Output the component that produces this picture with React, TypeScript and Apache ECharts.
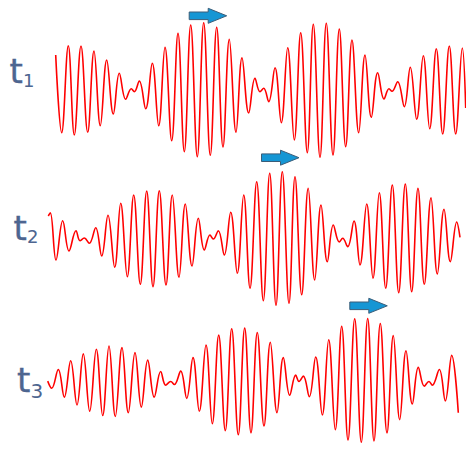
import React, { useEffect, useRef } from "react";
import * as echarts from "echarts";

// Wave 1 (t1): time positions of extrema and amplitudes
const wave1Time = [55.7, 61.7, 68.3, 74.3, 81, 87.7, 94, 100.3, 106.7, 113.3, 119.3, 125.7, 131.3, 134.3, 139.3, 145.7, 152.3, 158.7, 165, 171.7, 178, 184.3, 190.7, 197.3, 203.7, 210.3, 216.7, 223, 229.3, 236, 242, 248.7, 255, 260, 263.7, 268.7, 275, 281.3, 287.7, 294.3, 300.7, 307.3, 313.3, 320, 326.3, 333, 339.3, 345.7, 352, 358.7, 365, 371.3, 377.7, 384, 389, 392, 397.7, 404.3, 410.3, 416.7, 423.3, 429.7, 436.3, 442.7, 449.3, 455.7, 462.3, 465.7];
const wave1Amp = [35, -42.7, 44.3, -45, 44, -42.3, 39, -35.7, 30, -24, 16.7, -9.3, 1.3, -1.7, 9, -18.7, 26.7, -35.7, 42.7, -50.7, 56.7, -61.7, 65, -66.7, 67.3, -65.3, 62.7, -57, 50.7, -42.3, 32.3, -23, 11.7, -1.7, 1.7, -11.7, 22.3, -32.7, 42.3, -50, 57.3, -62.7, 65.7, -67.3, 66.7, -65, 61, -56.7, 50, -42.7, 35, -27.3, 17.3, -9, 1.3, -1.3, 8.3, -16.7, 22.7, -29.3, 34.3, -38.7, 41.3, -44, 44, -44, 42, -18];

// Wave 2 (t2)
const wave2Time = [48.3, 50.3, 56, 62.7, 69, 76, 80, 84.3, 89.3, 95.7, 101.7, 108, 114.7, 120.7, 127.3, 133.7, 140.3, 146.7, 153, 159.3, 166, 172.3, 179, 185.3, 192, 198.3, 204.3, 210, 213.3, 218.3, 224.3, 230.7, 237.3, 243.7, 250, 256.7, 263.3, 269.7, 276, 282.3, 289, 295, 301.7, 308.2, 314.7, 321, 327.3, 333.3, 339.3, 342.7, 347.7, 354, 360, 366.7, 373, 379.3, 385.7, 392.3, 398.7, 405.3, 411.7, 418, 424.3, 431, 437.3, 444, 450.3, 456.7, 460];
const wave2Amp = [22.5, 25.8, -21.5, 17.8, -12.5, 7.8, -2.2, 0.5, -4.8, 10.8, -17.5, 23.2, -28.8, 35.2, -38.2, 43.5, -45.8, 47.5, -48.2, 47.8, -46.5, 43.5, -38.8, 34.5, -27.5, 20.2, -11.5, 3.5, -0.5, 7.8, -16.5, 26.2, -34.8, 43.5, -49.8, 56.8, -62.2, 65.2, -66.8, 66.8, -64.8, 61.8, -56.2, 50.2, -41.5, 33.5, -23.2, 13.5, -3.5, 0.2, -8.2, 17.5, -26.5, 34.5, -39.8, 45.8, -49.8, 53.5, -54.2, 54.5, -53.2, 50.2, -45.8, 40.8, -35.5, 29.2, -23.2, 16.5, 1.2];

// Wave 3 (t3)
const wave3Time = [47.7, 51.7, 58.3, 64.3, 70.7, 77, 83.3, 89.7, 96.3, 102.7, 109, 115.3, 122, 128.3, 135, 141.3, 147.7, 154.2, 160.7, 165.7, 170.7, 174.3, 180.7, 186.7, 193, 199.3, 206, 212.3, 218.7, 225.3, 231.7, 238.3, 244.7, 251, 257.3, 264, 270.3, 277, 283.3, 289.7, 295.7, 299, 303.3, 309.3, 315.7, 322.3, 328.7, 335.3, 341.7, 348, 354.7, 361.3, 367.7, 374, 380.3, 387, 393.3, 399.7, 406, 412.3, 418.3, 424.3, 429, 432.3, 439.3, 445.3, 451.7, 458.3];
const wave3Amp = [-0.7, -8.3, 11.7, -17.7, 21, -26, 28.3, -32.7, 33.3, -37.3, 36.7, -38.3, 35, -34.3, 29.7, -28.3, 21.7, -17.7, 9.5, -5, -1, -4.3, 10, -19, 24.3, -32.7, 37.7, -46, 48.3, -53.3, 55, -57.7, 55.7, -55.7, 51, -48.3, 40.7, -34.3, 24.3, -15.7, 5.7, -1, 4.7, -17.2, 25, -36.7, 43.3, -52.3, 57.7, -63.3, 65.7, -65.7, 66, -64.3, 60.7, -55.7, 47.7, -41.7, 31.7, -25, 14, -6, -1, -5, 11.7, -21.7, 26.7, -34.3];

const subscripts = ["1", "2", "3"];

const WAVE_COLOR = "#ff0000";
const LABEL_COLOR = "#4d6590";

function arrow(tipX: number, midY: number) {
  return {
    type: "polygon",
    silent: true,
    shape: {
      points: [
        [tipX - 37.5, midY - 3.8],
        [tipX - 18.5, midY - 3.8],
        [tipX - 18.5, midY - 7.5],
        [tipX, midY],
        [tipX - 18.5, midY + 7.5],
        [tipX - 18.5, midY + 3.8],
        [tipX - 37.5, midY + 3.8],
      ],
    },
    style: { fill: "#1596d4", stroke: "#3b5d78", lineWidth: 1 },
  };
}

function label(tx: number, tMid: number, sMid: number, sub: string, subSize: number) {
  return [
    {
      type: "text",
      x: tx,
      y: tMid,
      silent: true,
      style: {
        text: "t",
        font: '34px "DejaVu Sans"',
        fill: LABEL_COLOR,
        stroke: LABEL_COLOR,
        lineWidth: 0.4,
        verticalAlign: "middle",
        align: "left",
      },
    },
    {
      type: "text",
      x: tx + 13.4,
      y: sMid,
      silent: true,
      style: {
        text: sub,
        font: `${subSize}px "DejaVu Sans"`,
        fill: LABEL_COLOR,
        verticalAlign: "middle",
        align: "left",
      },
    },
  ];
}

export default function App() {
  const ref = useRef<HTMLDivElement>(null);
  useEffect(() => {
    if (!ref.current) return;
    const chart = echarts.init(ref.current, undefined, { renderer: "svg" });
    const waves = [
      [wave1Time, wave1Amp],
      [wave2Time, wave2Amp],
      [wave3Time, wave3Amp],
    ];
    const tops = [15, 163.5, 310];
    const option: any = {
      animation: false,
      backgroundColor: "#ffffff",
      grid: tops.map((t) => ({ left: 0, width: 466, top: t, height: 150 })),
      xAxis: tops.map((_, i) => ({ type: "value", gridIndex: i, min: 0, max: 466, show: false })),
      yAxis: tops.map((_, i) => ({ type: "value", gridIndex: i, min: -75, max: 75, show: false })),
      series: waves.map(([tm, amp], i) => ({
        type: "line",
        xAxisIndex: i,
        yAxisIndex: i,
        data: tm.map((t, k) => [t, amp[k]]),
        smooth: 0.4,
        showSymbol: false,
        clip: false,
        lineStyle: { color: WAVE_COLOR, width: 1.6 },
      })),
      graphic: [
        arrow(226.7, 15.8),
        arrow(299, 157.7),
        arrow(387.3, 305.8),
        ...label(9.5, 71.2, 80.8, subscripts[0], 18),
        ...label(13.5, 228.2, 236.5, subscripts[1], 18),
        ...label(17, 380.2, 391, subscripts[2], 20),
      ],
    };
    chart.setOption(option);
    return () => chart.dispose();
  }, []);
  return (
    <div
      ref={ref}
      style={{ position: "fixed", left: 0, top: 0, width: 466, height: 451, background: "#fff" }}
    />
  );
}
